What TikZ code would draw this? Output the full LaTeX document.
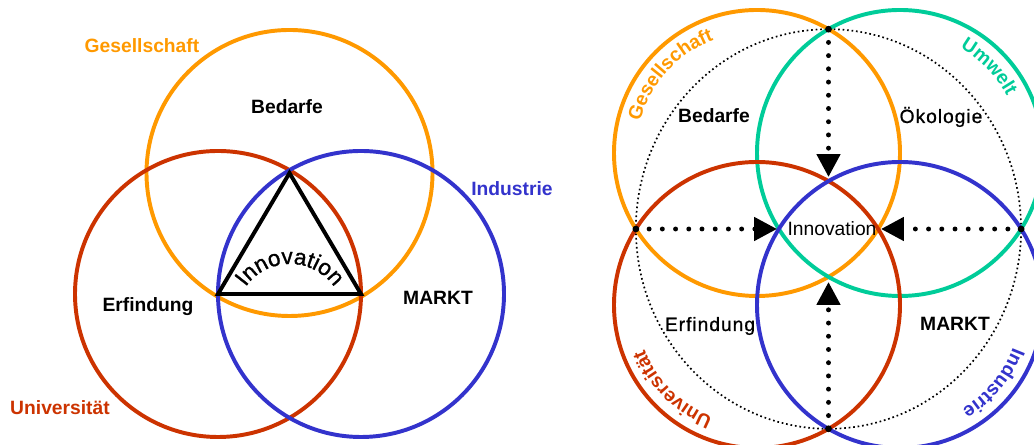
\documentclass[tikz,border=0pt]{standalone}
\usepackage{fontspec}
\setmainfont{Liberation Sans}
\newfontfamily\wideface[LetterSpace=5,FakeBold=0.8]{Liberation Sans}
\newfontfamily\semiface[FakeBold=1.2]{Liberation Sans}
\usetikzlibrary{arrows.meta,calc,decorations.text}
\definecolor{vennOrange}{HTML}{FF9900}
\definecolor{vennRed}{HTML}{CC3300}
\definecolor{vennBlue}{HTML}{3333CC}
\definecolor{vennGreen}{HTML}{00CC99}
\newcommand\arcfont{\fontsize{13.7}{16}\selectfont\bfseries}

\begin{document}
\begin{tikzpicture}[
    x=0.025cm,y=0.025cm,
    every node/.style={font=\fontsize{13.7}{16}\selectfont\bfseries,inner sep=0pt},
    ring/.style={draw=#1,line width=2.8pt},
    plain/.style={font=\fontsize{13.7}{16}\selectfont\wideface},
    owner/.style 2 args={decorate,decoration={text along path,text={|\arcfont|#2},text align=center,text color=#1}},
    pin/.style={fill=black},
    flow/.style={draw=black,line width=3.5pt,line cap=round,dash pattern=on 0pt off 9.4pt,-{Triangle[length=0.57cm,width=0.57cm]}}
]
\useasboundingbox (0,0) rectangle (1034,445);
\clip (0,0) rectangle (1034,445);
% left: three circles
\coordinate (lges) at (289.5,272);
\coordinate (luni) at (218,151);
\coordinate (lind) at (361,151);
\draw[ring=vennOrange] (lges) circle[radius=143];
\draw[ring=vennRed] (luni) circle[radius=143];
\draw[ring=vennBlue] (lind) circle[radius=143];
\draw[line width=2.8pt] (lges) -- (luni) -- (lind) -- cycle;
\path[decorate,decoration={text along path,text={|\fontsize{16}{19}\selectfont\semiface|Innovation},text align=center}]
    ($(290,127)+(155:54)$) arc[start angle=155,end angle=25,radius=54];
\node[text=vennOrange] (lgesname) at (142,399) {Gesellschaft};
\node[text=vennBlue] (lindname) at (512,256) {Industrie};
\node[text=vennRed] (luniname) at (60,37) {Universität};
\node (lbed) at (287,338) {Bedarfe};
\node (lerf) at (148,138) {Erfindung};
\node (lmar) at (438,147) {MARKT};
% right: four circles
\coordinate (rges) at (757,292);
\coordinate (rumw) at (900,292);
\coordinate (runi) at (757,140);
\coordinate (rind) at (900,140);
\draw[dotted,line width=1.2pt] (828.5,216) ellipse[x radius=192.6,y radius=199.8];
\draw[ring=vennOrange] (rges) circle[radius=143];
\draw[ring=vennGreen] (rumw) circle[radius=143];
\draw[ring=vennRed] (runi) circle[radius=143];
\draw[ring=vennBlue] (rind) circle[radius=143];
\path[owner={vennOrange}{Gesellschaft}] ($(rges)+(198:121)$) arc[start angle=198,end angle=78,radius=121];
\path[owner={vennGreen}{Umwelt}] ($(rumw)+(104:121)$) arc[start angle=104,end angle=-16,radius=121];
\path[owner={vennRed}{Universität}] ($(runi)+(285:121)$) arc[start angle=285,end angle=165,radius=121];
\path[owner={vennBlue}{Industrie}] ($(rind)+(20:121)$) arc[start angle=20,end angle=-100,radius=121];
\node[anchor=base] (rbed) at (714,322) {Bedarfe};
\node[plain,anchor=base] (roek) at (941,322) {Ökologie};
\node[plain,anchor=base] (rerf) at (710,114) {Erfindung};
\node[anchor=base] (rmar) at (955,114) {MARKT};
\node[anchor=base,font=\fontsize{13.7}{16}\selectfont] (rinno) at (832,209) {Innovation};
% arrows into the middle
\coordinate (ptop) at (828.5,415.8);
\coordinate (pbot) at (828.5,16.2);
\coordinate (pleft) at (635.9,216);
\coordinate (pright) at (1021.1,216);
\coordinate (ttop) at (828.5,268);
\coordinate (tbot) at (828.5,163);
\coordinate (tleft) at (777,216);
\coordinate (tright) at (881,216);
\foreach \p in {ptop,pbot,pleft,pright}
    \fill[pin] (\p) circle[radius=3.4];
\draw[flow] (ptop) -- (ttop);
\draw[flow] (pbot) -- (tbot);
\draw[flow] (pleft) -- (tleft);
\draw[flow] (pright) -- (tright);
\end{tikzpicture}
\end{document}
